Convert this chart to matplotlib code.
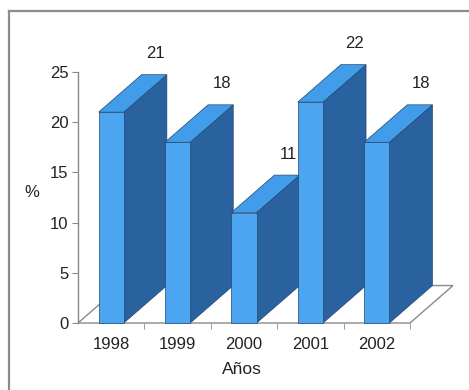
import matplotlib
matplotlib.use("Agg")
import matplotlib.pyplot as plt
from matplotlib.patches import Polygon
from matplotlib.lines import Line2D

years = ["1998", "1999", "2000", "2001", "2002"]
values = [21, 18, 11, 22, 18]
yticks = [0, 5, 10, 15, 20, 25]

front_col = "#4ba5f0"
top_col = "#419ce9"
side_col = "#2a62a0"
edge_col = "#24466e"
axis_col = "#8a8a8a"

# depth of the fake 3d, in data units (category, value)
dx, dy = 0.648, 3.73
left_off, bw = 0.31, 0.38

plt.rcParams['font.family'] = ['Liberation Sans', 'DejaVu Sans']

fig = plt.figure(figsize=(4.69, 3.90), dpi=100)
ax = fig.add_axes([78 / 469, 67 / 390, 332 / 469, 251 / 390])
ax.set_xlim(0, 5)
ax.set_ylim(0, 25)

# floor
n = len(years)
floor = Polygon([(0, 0), (n, 0), (n + dx, dy), (dx, dy)], closed=True,
                facecolor="white", edgecolor=axis_col, lw=1.0, clip_on=False, zorder=1)
ax.add_patch(floor)

for i, v in enumerate(values):
    x0 = i + left_off
    x1 = x0 + bw
    z = 3 + i
    front = Polygon([(x0, 0), (x1, 0), (x1, v), (x0, v)], closed=True,
                    facecolor=front_col, edgecolor=edge_col, lw=0.5, clip_on=False, zorder=z)
    side = Polygon([(x1, 0), (x1 + dx, dy), (x1 + dx, v + dy), (x1, v)], closed=True,
                   facecolor=side_col, edgecolor=edge_col, lw=0.5, clip_on=False, zorder=z)
    top = Polygon([(x0, v), (x1, v), (x1 + dx, v + dy), (x0 + dx, v + dy)], closed=True,
                  facecolor=top_col, edgecolor=edge_col, lw=0.5, clip_on=False, zorder=z)
    ax.add_patch(side)
    ax.add_patch(front)
    ax.add_patch(top)
    ax.text(x0 + bw / 2 + dx + 0.02, v + dy + 2.1, str(v), ha="center", va="center",
            fontsize=12, color="#222222", zorder=20)

for s in ["top", "right", "bottom"]:
    ax.spines[s].set_visible(False)
ax.spines["left"].set_color(axis_col)
ax.spines["left"].set_linewidth(1.0)
ax.spines["left"].set_zorder(2)

ax.set_yticks(yticks)
ax.tick_params(axis="y", direction="out", length=4, color=axis_col, labelsize=12,
               labelcolor="#222222", pad=3)
ax.set_xticks([i + 0.5 for i in range(n)])
ax.set_xticklabels(years)
ax.set_xticks(range(1, n + 1), minor=True)
ax.tick_params(axis="x", which="major", length=0, labelsize=12, labelcolor="#222222", pad=10)
ax.tick_params(axis="x", which="minor", direction="out", length=4, color=axis_col)

ax.set_xlabel("Años", fontsize=12.5, color="#222222")
ax.xaxis.set_label_coords(0.494, -0.187)
ax.xaxis.label.set_va("center")
ax.set_ylabel("%", rotation=0, fontsize=12, color="#222222")
ax.yaxis.set_label_coords(-0.139, 0.518)
ax.yaxis.label.set_va("center")
ax.patch.set_alpha(0)

# outer frame (top and left only)
fig.add_artist(Line2D([9 / 469, 1], [1 - 11 / 390, 1 - 11 / 390], color="#8c8c8c", lw=1.6))
fig.add_artist(Line2D([9 / 469, 9 / 469], [0, 1 - 11 / 390], color="#8c8c8c", lw=1.6))

fig.savefig("out.png", dpi=100)
